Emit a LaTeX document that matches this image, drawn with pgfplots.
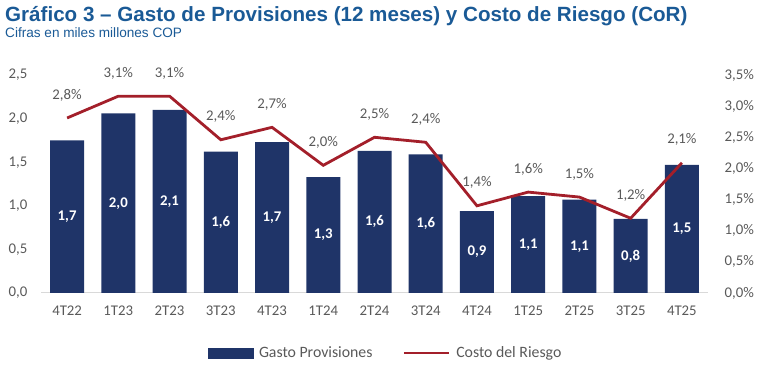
\documentclass[border=0pt]{standalone}
\usepackage{pgfplots}
\pgfplotsset{compat=1.18}
\usepackage{pgfplotstable}
\usepackage{fontspec}
\setmainfont{Carlito}
\newfontfamily\arialf{Liberation Sans}
\definecolor{navy}{HTML}{1F3468}
\definecolor{redl}{HTML}{A31F2A}
\definecolor{tgray}{HTML}{595959}
\definecolor{tblue}{HTML}{1A5A96}
\definecolor{axgray}{HTML}{D9D9D9}

\pgfplotstableread{
x y lab
0 1.75 1,7
1 2.06 2,0
2 2.10 2,1
3 1.62 1,6
4 1.73 1,7
5 1.33 1,3
6 1.63 1,6
7 1.59 1,6
8 0.94 0,9
9 1.11 1,1
10 1.07 1,1
11 0.85 0,8
12 1.47 1,5
}\bars

\pgfplotstableread{
x y lab
0 2.81 2,8\%
1 3.16 3,1\%
2 3.16 3,1\%
3 2.46 2,4\%
4 2.66 2,7\%
5 2.05 2,0\%
6 2.50 2,5\%
7 2.42 2,4\%
8 1.40 1,4\%
9 1.62 1,6\%
10 1.54 1,5\%
11 1.20 1,2\%
12 2.09 2,1\%
}\cor

\begin{document}
\begin{tikzpicture}
\useasboundingbox (0pt,0pt) rectangle (777pt,372pt);
\node[anchor=base west, inner sep=0, text=tblue, font=\arialf\bfseries\fontsize{20.6}{24}\selectfont] at (5pt,350.5pt) {Gráfico 3 – Gasto de Provisiones (12 meses) y Costo de Riesgo (CoR)};
\node[anchor=base west, inner sep=0, text=tblue, font=\arialf\fontsize{13.6}{15}\selectfont] at (5pt,334pt) {Cifras en miles millones COP};

\begin{axis}[
  at={(41.5pt,79pt)}, anchor=south west,
  scale only axis, width=666pt, height=218pt,
  xmin=-0.5, xmax=12.5, ymin=0, ymax=2.5,
  axis x line*=bottom, axis y line*=left,
  y axis line style={draw=none},
  x axis line style={draw=axgray, line width=1pt, -},
  major tick length=0pt,
  xtick={0,...,12},
  xticklabels={4T22,1T23,2T23,3T23,4T23,1T24,2T24,3T24,4T24,1T25,2T25,3T25,4T25},
  ytick={0,0.5,1,1.5,2,2.5},
  yticklabels={{0,0},{0,5},{1,0},{1,5},{2,0},{2,5}},
  tick label style={inner sep=0pt, text=tgray, font=\fontsize{14.8}{16}\selectfont},
  xticklabel style={yshift=-13pt},
  yticklabel style={xshift=-14pt},
]
\addplot[ybar, bar width=34pt, bar shift=0pt, fill=navy, draw=none,
  nodes near coords, point meta=explicit symbolic,
  visualization depends on={rawy \as \ry},
  every node near coord/.append style={anchor=center, text=white,
    font=\bfseries\fontsize{14.8}{16}\selectfont,
    shift={(axis direction cs:0,-\ry/2)}}]
  table[x=x, y=y, meta=lab]{\bars};
\end{axis}

\begin{axis}[
  at={(41.5pt,79pt)}, anchor=south west,
  scale only axis, width=666pt, height=218pt,
  xmin=-0.5, xmax=12.5, ymin=0, ymax=3.5,
  axis x line=none, axis y line*=right,
  y axis line style={draw=none},
  major tick length=0pt,
  ytick={0,0.5,1,1.5,2,2.5,3,3.5},
  yticklabels={{0,0\%},{0,5\%},{1,0\%},{1,5\%},{2,0\%},{2,5\%},{3,0\%},{3,5\%}},
  tick label style={inner sep=0pt, text=tgray, font=\fontsize{14.8}{16}\selectfont},
  yticklabel style={xshift=17pt},
  legend style={at={(0.5165,-0.275)}, anchor=center, draw=none, fill=none,
    legend columns=2, font=\fontsize{15.8}{17}\selectfont, text=tgray,
    /tikz/every odd column/.append style={column sep=4pt},
    /tikz/every even column/.append style={column sep=28pt}},
]
\addlegendimage{legend image code/.code={\fill[navy] (0pt,-5pt) rectangle (45pt,5pt);}}
\addlegendentry{Gasto Provisiones}
\addplot[redl, line width=2.8pt, mark=none,
  nodes near coords, point meta=explicit symbolic,
  every node near coord/.append style={anchor=center, yshift=23pt, text=tgray,
    font=\fontsize{14.8}{16}\selectfont},
  legend image code/.code={\draw[redl, line width=2.8pt] (0pt,0pt) -- (45pt,0pt);}]
  table[x=x, y=y, meta=lab]{\cor};
\addlegendentry{Costo del Riesgo}
\end{axis}
\end{tikzpicture}
\end{document}
